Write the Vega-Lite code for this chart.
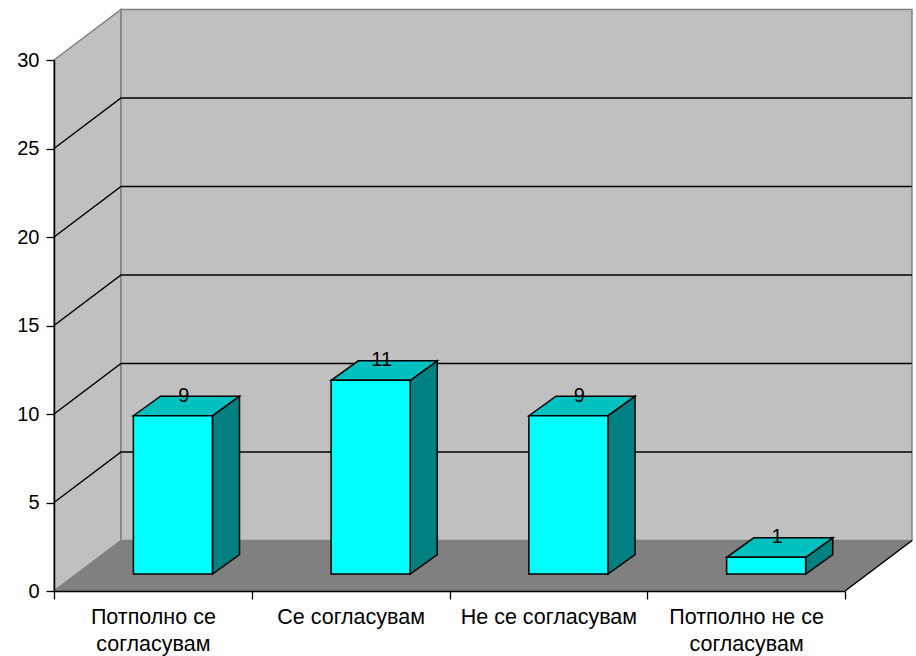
{"$schema":"https://vega.github.io/schema/vega-lite/v6.json","width":858,"height":581,"autosize":{"type":"none"},"padding":{"left":54,"top":10,"right":4,"bottom":65},"background":"white","config":{"view":{"stroke":null},"font":"Liberation Sans"},
"datasets":{
"bars":[{"category":"Потполно се согласувам","value":9},{"category":"Се согласувам","value":11},{"category":"Не се согласувам","value":9},{"category":"Потполно не се согласувам","value":1}],
"walls":[
{"wall":"left","u":0,"level":30,"d":0},{"wall":"left","u":0,"level":30,"d":1},{"wall":"left","u":0,"level":0,"d":1},{"wall":"left","u":0,"level":0,"d":0},
{"wall":"back","u":0,"level":30,"d":1},{"wall":"back","u":1,"level":30,"d":1},{"wall":"back","u":1,"level":0,"d":1},{"wall":"back","u":0,"level":0,"d":1}],
"floor":[{"wall":"floor","u":0,"level":0,"d":0},{"wall":"floor","u":0,"level":0,"d":1},{"wall":"floor","u":1,"level":0,"d":1},{"wall":"floor","u":1,"level":0,"d":0}],
"grid":[
{"line":"g5","u":0,"level":5,"d":0},{"line":"g5","u":0,"level":5,"d":1},{"line":"g5","u":1,"level":5,"d":1},
{"line":"g10","u":0,"level":10,"d":0},{"line":"g10","u":0,"level":10,"d":1},{"line":"g10","u":1,"level":10,"d":1},
{"line":"g15","u":0,"level":15,"d":0},{"line":"g15","u":0,"level":15,"d":1},{"line":"g15","u":1,"level":15,"d":1},
{"line":"g20","u":0,"level":20,"d":0},{"line":"g20","u":0,"level":20,"d":1},{"line":"g20","u":1,"level":20,"d":1},
{"line":"g25","u":0,"level":25,"d":0},{"line":"g25","u":0,"level":25,"d":1},{"line":"g25","u":1,"level":25,"d":1},
{"line":"edge","u":1,"level":0,"d":0},{"line":"edge","u":1,"level":0,"d":1}],
"sides":[
{"category":"Потполно се согласувам","c":1,"d":-0.05,"level":9},{"category":"Потполно се согласувам","c":1.342,"d":0.95,"level":9},{"category":"Потполно се согласувам","c":1.342,"d":1,"level":0},{"category":"Потполно се согласувам","c":1,"d":0,"level":0},
{"category":"Се согласувам","c":1,"d":-0.05,"level":11},{"category":"Се согласувам","c":1.342,"d":0.95,"level":11},{"category":"Се согласувам","c":1.342,"d":1,"level":0},{"category":"Се согласувам","c":1,"d":0,"level":0},
{"category":"Не се согласувам","c":1,"d":-0.05,"level":9},{"category":"Не се согласувам","c":1.342,"d":0.95,"level":9},{"category":"Не се согласувам","c":1.342,"d":1,"level":0},{"category":"Не се согласувам","c":1,"d":0,"level":0},
{"category":"Потполно не се согласувам","c":1,"d":-0.05,"level":1},{"category":"Потполно не се согласувам","c":1.342,"d":0.95,"level":1},{"category":"Потполно не се согласувам","c":1.342,"d":1,"level":0},{"category":"Потполно не се согласувам","c":1,"d":0,"level":0}],
"tops":[
{"category":"Потполно се согласувам","c":0,"d":-0.05,"level":9},{"category":"Потполно се согласувам","c":1,"d":-0.05,"level":9},{"category":"Потполно се согласувам","c":1.342,"d":0.95,"level":9},{"category":"Потполно се согласувам","c":0.342,"d":0.95,"level":9},
{"category":"Се согласувам","c":0,"d":-0.05,"level":11},{"category":"Се согласувам","c":1,"d":-0.05,"level":11},{"category":"Се согласувам","c":1.342,"d":0.95,"level":11},{"category":"Се согласувам","c":0.342,"d":0.95,"level":11},
{"category":"Не се согласувам","c":0,"d":-0.05,"level":9},{"category":"Не се согласувам","c":1,"d":-0.05,"level":9},{"category":"Не се согласувам","c":1.342,"d":0.95,"level":9},{"category":"Не се согласувам","c":0.342,"d":0.95,"level":9},
{"category":"Потполно не се согласувам","c":0,"d":-0.05,"level":1},{"category":"Потполно не се согласувам","c":1,"d":-0.05,"level":1},{"category":"Потполно не се согласувам","c":1.342,"d":0.95,"level":1},{"category":"Потполно не се согласувам","c":0.342,"d":0.95,"level":1}]
},
"resolve":{"scale":{"x":"independent","y":"independent","xOffset":"independent","yOffset":"independent"},"axis":{"x":"independent","y":"independent"}},
"layer":[
{"data":{"name":"walls"},"mark":{"type":"line","interpolate":"linear-closed","fill":"#C0C0C0","stroke":"#808080","strokeWidth":1.5},
"encoding":{"detail":{"field":"wall"},"order":{"value":null},
"x":{"field":"u","type":"ordinal","axis":null,"scale":{"type":"point","domain":[0,1],"range":[0,791],"padding":0}},
"xOffset":{"field":"d","type":"quantitative","scale":{"domain":[0,1],"range":[0,67]}},
"y":{"field":"level","type":"ordinal","axis":null,"scale":{"type":"point","domain":[0,1,2,3,4,5,6,7,8,9,10,11,12,13,14,15,16,17,18,19,20,21,22,23,24,25,26,27,28,29,30],"range":[581,50],"padding":0}},
"yOffset":{"field":"d","type":"quantitative","scale":{"domain":[0,1],"range":[0,-50.5]}}}},
{"data":{"name":"floor"},"mark":{"type":"line","interpolate":"linear-closed","fill":"#808080","stroke":"#808080","strokeWidth":1},
"encoding":{"detail":{"field":"wall"},"order":{"value":null},
"x":{"field":"u","type":"ordinal","axis":null,"scale":{"type":"point","domain":[0,1],"range":[0,791],"padding":0}},
"xOffset":{"field":"d","type":"quantitative","scale":{"domain":[0,1],"range":[0,67]}},
"y":{"field":"level","type":"ordinal","axis":null,"scale":{"type":"point","domain":[0,1,2,3,4,5,6,7,8,9,10,11,12,13,14,15,16,17,18,19,20,21,22,23,24,25,26,27,28,29,30],"range":[581,50],"padding":0}},
"yOffset":{"field":"d","type":"quantitative","scale":{"domain":[0,1],"range":[0,-50.5]}}}},
{"data":{"name":"grid"},"mark":{"type":"line","stroke":"#000000","strokeWidth":1.5},
"encoding":{"detail":{"field":"line"},"order":{"value":null},
"x":{"field":"u","type":"ordinal","axis":null,"scale":{"type":"point","domain":[0,1],"range":[0,791],"padding":0}},
"xOffset":{"field":"d","type":"quantitative","scale":{"domain":[0,1],"range":[0,67]}},
"y":{"field":"level","type":"ordinal","axis":null,"scale":{"type":"point","domain":[0,1,2,3,4,5,6,7,8,9,10,11,12,13,14,15,16,17,18,19,20,21,22,23,24,25,26,27,28,29,30],"range":[581,50],"padding":0}},
"yOffset":{"field":"d","type":"quantitative","scale":{"domain":[0,1],"range":[0,-50.5]}}}},
{"data":{"name":"sides"},"mark":{"type":"line","interpolate":"linear-closed","fill":"#008080","stroke":"#000000","strokeWidth":1.5},
"encoding":{"detail":{"field":"category"},"order":{"value":null},
"x":{"field":"category","type":"nominal","sort":null,"axis":null,"scale":{"domain":["Потполно се согласувам","Се согласувам","Не се согласувам","Потполно не се согласувам"],"range":[0,791],"paddingInner":0,"paddingOuter":0}},
"xOffset":{"field":"c","type":"quantitative","scale":{"domain":[0,1],"range":[79.5,158.5]}},
"y":{"field":"level","type":"ordinal","axis":null,"scale":{"type":"point","domain":[0,1,2,3,4,5,6,7,8,9,10,11,12,13,14,15,16,17,18,19,20,21,22,23,24,25,26,27,28,29,30],"range":[581,50],"padding":0}},
"yOffset":{"field":"d","type":"quantitative","scale":{"domain":[0,1],"range":[-17,-36.5]}}}},
{"data":{"name":"tops"},"mark":{"type":"line","interpolate":"linear-closed","fill":"#00C0C0","stroke":"#000000","strokeWidth":1.5},
"encoding":{"detail":{"field":"category"},"order":{"value":null},
"x":{"field":"category","type":"nominal","sort":null,"axis":null,"scale":{"domain":["Потполно се согласувам","Се согласувам","Не се согласувам","Потполно не се согласувам"],"range":[0,791],"paddingInner":0,"paddingOuter":0}},
"xOffset":{"field":"c","type":"quantitative","scale":{"domain":[0,1],"range":[79.5,158.5]}},
"y":{"field":"level","type":"ordinal","axis":null,"scale":{"type":"point","domain":[0,1,2,3,4,5,6,7,8,9,10,11,12,13,14,15,16,17,18,19,20,21,22,23,24,25,26,27,28,29,30],"range":[581,50],"padding":0}},
"yOffset":{"field":"d","type":"quantitative","scale":{"domain":[-0.05,0.95],"range":[-16,-35.5]}}}},
{"data":{"name":"bars"},"mark":{"type":"bar","size":79,"xOffset":20,"yOffset":-16,"y2Offset":-17,"fill":"#00FFFF","stroke":"#000000","strokeWidth":1.5},
"encoding":{
"x":{"field":"category","type":"nominal","sort":null,"title":null,"scale":{"domain":["Потполно се согласувам","Се согласувам","Не се согласувам","Потполно не се согласувам"],"range":[0,791],"paddingInner":0,"paddingOuter":0},
"axis":{"zindex":1,"tickBand":"extent","labelAngle":0,"labelAlign":"center","labelBaseline":"top","labelLimit":0,"labelColor":"#000000","labelFont":"Liberation Sans","labelFontSize":21.5,"labelPadding":7,"labelLineHeight":27.5,"domainColor":"#000000","tickColor":"#000000","tickSize":8,"domainWidth":1.5,"tickWidth":1.3,
"labelExpr":"datum.label=='Потполно се согласувам'?['Потполно се','согласувам']:datum.label=='Потполно не се согласувам'?['Потполно не се','согласувам']:datum.label"}},
"y":{"field":"value","type":"quantitative","title":null,"scale":{"domain":[0,30],"range":[581,50],"nice":false},"axis":{"values":[0,5,10,15,20,25,30],"grid":false,"zindex":1,"domainColor":"#000000","tickColor":"#000000","tickSize":8,"labelColor":"#000000","labelFont":"Liberation Sans","labelFontSize":20,"labelPadding":7,"domainWidth":1.5,"tickWidth":1.3}},
"y2":{"datum":0}}},
{"data":{"name":"bars"},"mark":{"type":"text","xOffset":31,"yOffset":-36,"fontSize":20,"font":"Liberation Sans","color":"#000000","baseline":"middle","align":"center"},
"encoding":{
"x":{"field":"category","type":"nominal","sort":null,"axis":null,"scale":{"domain":["Потполно се согласувам","Се согласувам","Не се согласувам","Потполно не се согласувам"],"range":[0,791],"paddingInner":0,"paddingOuter":0}},
"y":{"field":"value","type":"quantitative","axis":null,"scale":{"domain":[0,30],"range":[581,50],"nice":false}},
"text":{"field":"value","type":"quantitative"}}}
]}
